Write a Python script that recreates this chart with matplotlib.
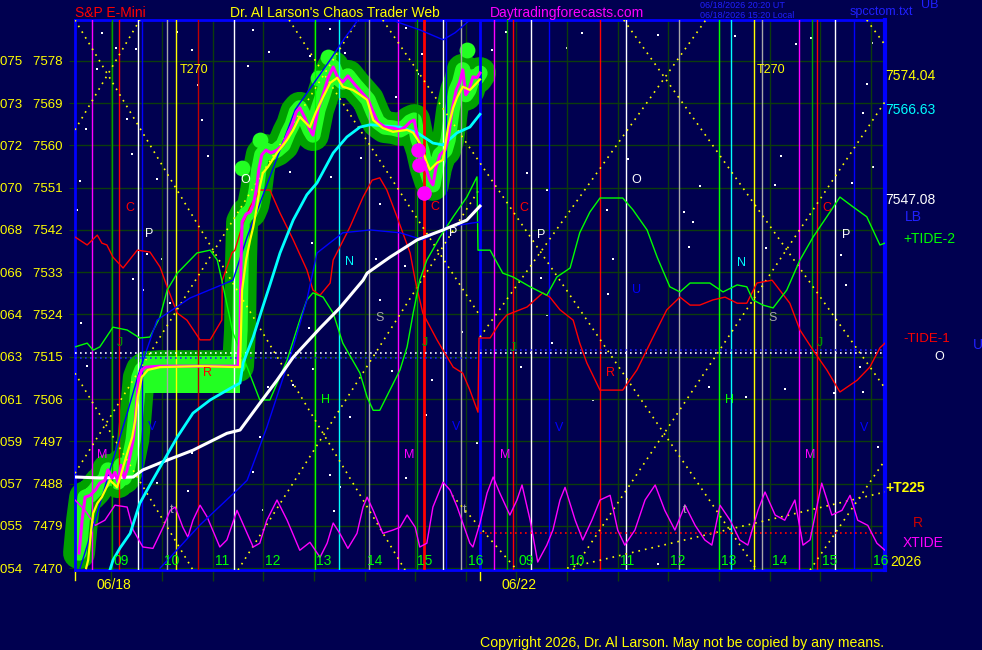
import matplotlib
matplotlib.use("Agg")
import matplotlib.pyplot as plt
import matplotlib.transforms as mtransforms

W, H = 982, 650
BG = '#000050'
GRID = '#0c3c0c'

# ---- data (time = session hours from 08:17 day 1, 8 h per day) ----
price_codes = ["075", "073", "072", "070", "068", "066", "064", "063", "061", "059", "057", "055", "054"]
price_ticks = [7578, 7569, 7560, 7551, 7542, 7533, 7524, 7515, 7506, 7497, 7488, 7479, 7470]
hour_labels = ["09", "10", "11", "12", "13", "14", "15", "16"]
day_labels = ["06/18", "06/22"]

price_t = [0.08, 0.14, 0.20, 0.30, 0.40, 0.49, 0.59, 0.65, 0.73, 0.79, 0.85, 0.91, 0.97, 1.03, 1.09, 1.15,
           1.19, 1.23, 1.26, 1.32, 1.40, 1.68, 2.47, 3.22, 3.26, 3.28, 3.30, 3.38, 3.46, 3.52, 3.58, 3.63,
           3.69, 3.77, 3.87, 3.99, 4.11, 4.21, 4.29, 4.37, 4.44, 4.54, 4.64, 4.70, 4.80, 4.90, 5.00, 5.10,
           5.19, 5.29, 5.39, 5.53, 5.67, 5.79, 5.89, 5.98, 6.12, 6.28, 6.42, 6.52, 6.62, 6.70, 6.77, 6.85,
           6.93, 7.01, 7.07, 7.13, 7.21, 7.31, 7.37, 7.45, 7.53, 7.60, 7.66, 7.72, 7.78, 7.86, 7.94, 8.00]
price = [7473.2, 7480.2, 7485.1, 7485.5, 7486.6, 7488.1, 7488.7, 7490.9, 7489.2, 7490.4, 7488.3, 7491.9,
         7489.2, 7490.9, 7494.1, 7497.3, 7501.5, 7506.8, 7510.5, 7512.2, 7512.8, 7513.0, 7513.0, 7513.0,
         7520.7, 7535.6, 7543.7, 7545.4, 7545.8, 7547.3, 7550.5, 7554.8, 7558.0, 7559.0, 7558.4, 7559.0,
         7560.1, 7562.7, 7564.4, 7567.1, 7568.0, 7565.9, 7563.3, 7562.2, 7567.6, 7570.8, 7574.4, 7576.7,
         7574.4, 7573.5, 7574.8, 7572.9, 7571.2, 7569.7, 7567.1, 7565.0, 7563.9, 7563.7, 7563.3, 7563.9,
         7565.0, 7565.4, 7561.6, 7559.0, 7555.2, 7552.6, 7551.6, 7555.2, 7558.0, 7559.0, 7561.2, 7567.6,
         7571.8, 7573.5, 7576.1, 7570.8, 7571.8, 7574.6, 7574.4, 7575.4]

# congestion zone of the first hours (t0, t1, low, high)
flat_zone = (1.28, 3.26, 7507.2, 7515.1)

smooth_t = [0.22, 0.26, 0.32, 0.36, 0.44, 0.53, 0.69, 0.77, 0.83, 0.89, 0.95, 1.05, 1.13, 1.19, 1.24, 1.32,
            1.44, 1.68, 2.47, 3.26, 3.30, 3.38, 3.46, 3.52, 3.60, 3.65, 3.71, 3.81, 3.99, 4.19, 4.31, 4.44,
            4.54, 4.64, 4.76, 4.90, 5.04, 5.18, 5.29, 5.49, 5.63, 5.77, 5.89, 6.08, 6.28, 6.56, 6.68, 6.77,
            6.85, 6.93, 7.01, 7.15, 7.27, 7.37, 7.47, 7.55, 7.66, 7.80, 7.90, 8.00]
smooth = [7470.0, 7471.7, 7478.1, 7481.7, 7483.8, 7485.1, 7488.7, 7487.9, 7487.2, 7489.2, 7491.5, 7495.1,
          7497.9, 7501.5, 7506.4, 7510.7, 7512.2, 7512.8, 7513.0, 7512.8, 7529.2, 7535.6, 7539.9, 7542.6,
          7547.3, 7551.2, 7554.1, 7555.4, 7558.4, 7561.2, 7563.3, 7566.1, 7565.0, 7563.9, 7567.1, 7570.3,
          7573.3, 7574.4, 7572.5, 7571.8, 7570.8, 7569.7, 7565.4, 7563.7, 7562.9, 7563.3, 7562.7, 7561.2,
          7559.7, 7556.9, 7554.8, 7556.3, 7556.9, 7563.9, 7568.0, 7570.3, 7572.5, 7571.8, 7572.9, 7574.04]

cyan_t = [0.69, 0.75, 0.89, 1.09, 1.28, 1.48, 1.68, 2.02, 2.33, 2.67, 3.12, 3.26, 3.32, 3.52, 3.69, 3.85,
          4.05, 4.31, 4.58, 4.78, 5.10, 5.37, 5.63, 5.83, 6.42, 6.76, 7.07, 7.27, 7.55, 7.80, 8.00]
cyan = [7469.6, 7471.7, 7474.3, 7477.4, 7483.8, 7487.7, 7491.5, 7497.9, 7503.0, 7505.8, 7508.6, 7509.4,
        7513.7, 7519.2, 7525.0, 7530.3, 7537.1, 7544.1, 7549.5, 7552.0, 7558.4, 7561.8, 7563.9, 7564.4,
        7563.9, 7562.7, 7560.5, 7560.1, 7562.7, 7563.9, 7566.63]

white_t = [0.0, 0.49, 1.15, 1.34, 1.68, 2.33, 3.00, 3.26, 3.65, 3.99, 4.31, 4.84, 5.23, 5.69, 5.77, 6.22,
           6.76, 7.27, 7.74, 8.00]
white = [7489.4, 7489.2, 7489.4, 7490.9, 7492.4, 7495.1, 7498.7, 7499.4, 7505.1, 7510.0, 7514.9, 7521.1,
         7525.4, 7531.3, 7532.8, 7536.2, 7539.9, 7542.0, 7544.1, 7547.08]

lb_t = [1.68, 1.88, 2.47, 3.20, 3.40, 3.79, 4.31, 4.58, 4.78, 5.29, 5.83, 6.42, 6.87, 7.35, 7.86, 8.00]
lb = [7470.0, 7472.3, 7479.2, 7486.6, 7488.7, 7500.0, 7517.1, 7527.1, 7537.1, 7541.4, 7542.0, 7541.4,
      7539.9, 7542.6, 7543.5, 7543.7]
ub_t = [0.10, 0.40, 0.69, 0.99, 1.28, 1.62, 2.27, 3.12, 3.40, 3.85, 4.35, 5.04, 5.33, 5.59, 5.97, 6.36,
        6.81, 7.27, 7.51, 7.80, 8.00]
ub = [7470.0, 7480.2, 7490.9, 7501.5, 7512.2, 7522.8, 7527.5, 7531.3, 7540.5, 7553.3, 7567.6, 7578.2,
      7582.9, 7586.7, 7588.4, 7586.3, 7584.6, 7582.5, 7584.0, 7586.7, 7588.4]

tide1_t = [0.0, 0.24, 0.44, 0.53, 0.63, 0.75, 0.95, 1.23, 1.48, 1.68, 1.82, 2.02, 2.21, 2.47, 2.67, 2.90,
           2.91, 3.10, 3.16, 3.32, 3.46, 3.65, 3.85, 4.05, 4.31, 4.58, 4.70, 4.84, 5.04, 5.10, 5.43, 5.69,
           5.87, 6.02, 6.16, 6.36, 6.62, 6.72, 6.87, 7.15, 7.27, 7.47, 7.66, 7.80, 7.96, 7.98, 8.20, 8.39,
           8.53, 8.93, 9.24, 9.38, 9.58, 9.84, 9.97, 10.11, 10.37, 10.82, 11.10, 11.42, 11.69, 11.95, 12.15,
           12.34, 12.60, 12.84, 13.08, 13.27, 13.47, 13.77, 14.12, 14.32, 14.58, 14.85, 15.11, 15.45, 15.70,
           15.90, 16.0]
tide1 = [7540.5, 7538.8, 7540.9, 7539.2, 7538.8, 7536.2, 7533.9, 7537.7, 7537.3, 7534.1, 7529.9, 7524.3,
         7522.8, 7518.6, 7518.6, 7522.8, 7531.3, 7537.1, 7537.7, 7543.5, 7546.9, 7550.5, 7550.5, 7545.6,
         7539.9, 7533.5, 7529.2, 7528.1, 7530.7, 7535.6, 7542.6, 7549.0, 7552.6, 7553.1, 7550.5, 7544.8,
         7537.1, 7531.3, 7524.3, 7518.6, 7516.4, 7512.8, 7511.5, 7507.9, 7503.2, 7519.0, 7519.0, 7522.2,
         7523.9, 7525.6, 7528.6, 7527.7, 7525.0, 7522.8, 7517.9, 7513.7, 7507.9, 7507.9, 7512.2, 7519.2,
         7525.0, 7527.7, 7526.0, 7526.0, 7527.1, 7527.7, 7526.4, 7526.4, 7530.7, 7531.3, 7526.4, 7520.7,
         7516.4, 7512.2, 7507.5, 7510.0, 7512.8, 7516.9, 7517.9]

tide2_t = [0.0, 0.24, 0.36, 0.49, 0.75, 1.03, 1.28, 1.48, 1.68, 1.82, 2.02, 2.41, 2.67, 2.81, 2.90, 3.12,
           3.40, 3.65, 3.85, 4.19, 4.44, 4.58, 4.70, 4.90, 5.10, 5.29, 5.63, 5.77, 5.89, 6.02, 6.22, 6.42,
           6.56, 6.68, 6.81, 6.95, 7.21, 7.47, 7.74, 7.94, 7.96, 8.20, 8.45, 8.65, 8.99, 9.32, 9.52, 9.78,
           9.97, 10.17, 10.37, 10.82, 11.02, 11.30, 11.50, 11.75, 11.95, 12.15, 12.54, 12.80, 13.08, 13.27,
           13.39, 13.59, 13.79, 14.06, 14.32, 14.58, 14.85, 15.11, 15.37, 15.64, 15.90, 16.0]
tide2 = [7517.1, 7517.9, 7516.4, 7517.1, 7521.3, 7520.7, 7519.0, 7519.2, 7523.5, 7529.2, 7532.8, 7537.1,
         7537.7, 7535.6, 7531.3, 7520.1, 7512.8, 7505.8, 7505.8, 7514.3, 7522.8, 7527.1, 7528.6, 7527.7,
         7524.3, 7517.9, 7511.5, 7506.4, 7503.6, 7503.6, 7507.9, 7512.2, 7517.1, 7524.3, 7531.3, 7535.6,
         7540.5, 7544.8, 7549.0, 7553.3, 7537.7, 7537.7, 7532.8, 7532.0, 7529.9, 7528.1, 7532.0, 7533.9,
         7541.4, 7545.8, 7548.8, 7548.8, 7546.3, 7542.0, 7536.2, 7529.9, 7528.8, 7530.7, 7530.7, 7528.8,
         7530.3, 7529.9, 7527.1, 7526.0, 7525.4, 7529.2, 7535.6, 7540.5, 7544.8, 7549.0, 7546.9, 7544.8,
         7538.8, 7539.2]

xtide_t = [0.0, 0.20, 0.40, 0.59, 0.79, 1.03, 1.15, 1.34, 1.54, 1.74, 1.88, 1.98, 2.13, 2.23, 2.33, 2.47,
           2.61, 2.86, 3.00, 3.20, 3.40, 3.52, 3.65, 3.79, 3.99, 4.19, 4.44, 4.64, 4.84, 4.98, 5.10, 5.23,
           5.39, 5.57, 5.69, 5.77, 5.89, 6.08, 6.28, 6.42, 6.56, 6.72, 6.81, 6.95, 7.07, 7.27, 7.41, 7.55,
           7.66, 7.80, 7.86, 8.00, 8.14, 8.26, 8.39, 8.59, 8.73, 8.83, 8.99, 9.14, 9.32, 9.44, 9.58, 9.68,
           9.88, 10.03, 10.21, 10.37, 10.57, 10.72, 10.86, 11.06, 11.26, 11.46, 11.65, 11.85, 12.05, 12.25,
           12.44, 12.58, 12.74, 12.94, 13.13, 13.29, 13.49, 13.63, 13.83, 14.02, 14.22, 14.38, 14.52, 14.75,
           14.95, 15.15, 15.31, 15.46, 15.66, 15.84, 16.0]
xtide = [7484.5, 7482.3, 7479.1, 7480.2, 7483.4, 7483.0, 7478.1, 7474.5, 7474.2, 7478.7, 7482.3, 7483.0,
         7478.7, 7476.6, 7480.2, 7483.4, 7480.9, 7474.5, 7476.0, 7482.3, 7477.4, 7474.5, 7475.3, 7480.2,
         7484.5, 7480.2, 7473.8, 7475.5, 7472.3, 7475.3, 7479.6, 7477.4, 7474.2, 7477.4, 7483.0, 7485.1,
         7482.3, 7477.4, 7478.1, 7478.7, 7481.3, 7478.7, 7474.5, 7475.3, 7483.0, 7488.3, 7486.6, 7483.0,
         7479.6, 7475.3, 7474.5, 7479.6, 7486.0, 7489.4, 7486.0, 7481.3, 7484.5, 7487.7, 7480.2, 7471.3,
         7474.9, 7478.1, 7484.5, 7487.2, 7480.2, 7476.0, 7480.2, 7484.5, 7485.5, 7478.1, 7474.9, 7478.1,
         7484.5, 7487.7, 7482.3, 7478.1, 7483.4, 7479.1, 7476.0, 7474.9, 7483.4, 7480.2, 7476.0, 7474.9,
         7482.3, 7486.2, 7481.3, 7480.2, 7484.5, 7474.9, 7476.0, 7488.1, 7481.3, 7482.3, 7485.5, 7480.2,
         7479.1, 7475.3, 7473.8]

# vertical event lines (time, kind)
event_t = [0.34, 0.73, 0.87, 1.24, 1.32, 1.82, 2.00, 2.43, 3.14, 4.74, 5.21, 5.81, 6.38, 6.76, 6.89, 7.27,
           7.33, 7.62, 8.0, 8.28, 8.53, 8.65, 9.01, 9.36, 10.37, 10.88, 11.93, 12.72, 12.96, 13.41, 13.57,
           14.30, 14.56, 14.66, 15.01, 15.39]
event_kind = ["ma", "gr", "re", "wh", "bl", "gy", "ye", "dr", "wh", "li", "cy", "gy", "ma", "gr", "RE", "wh",
              "bl", "gy", "BL", "ma", "gr", "re", "wh", "bl", "re", "wh", "gy", "li", "cy", "ye", "gy",
              "ma", "gr", "re", "wh", "bl"]

# dotted time/price diagonals (t0, p0, t1, p1)
diag = [(0.0, 7586.7, 6.52, 7469.6), (0.0, 7511.5, 2.33, 7469.6), (0.0, 7563.3, 1.28, 7586.7),
        (0.0, 7490.2, 5.59, 7586.7), (3.22, 7469.6, 8.0, 7550.9), (4.23, 7586.7, 8.0, 7523.7),
        (6.08, 7586.7, 13.47, 7469.6), (8.0, 7519.2, 12.46, 7586.7), (10.84, 7586.7, 16.0, 7508.3),
        (9.84, 7469.6, 16.0, 7569.3), (14.52, 7469.6, 16.0, 7493.0), (15.64, 7586.7, 16.0, 7581.4),
        (7.45, 7485.5, 8.73, 7469.6)]
t225 = (9.72, 7470.0, 16.0, 7486.2)

# faint background dots
dot_t = [0.53, 0.81, 2.02, 2.31, 3.52, 5.04, 5.33, 6.54, 6.85, 8.24, 8.51, 9.72, 10.01, 11.51, 13.04, 14.24,
         14.54, 15.74, 0.44, 1.03, 1.13, 0.10, 0.22, 1.21, 2.43, 2.51, 2.63, 3.42, 3.83, 4.25, 4.64, 1.62,
         1.72, 1.42, 1.15, 0.04, 0.12, 0.24, 1.34, 1.88, 2.31, 2.23, 3.52, 3.65, 3.81, 4.31, 3.71, 1.62,
         0.99, 4.70, 4.62, 6.02, 5.43, 5.23, 5.04, 6.26, 6.54, 6.93, 7.05, 7.64, 7.94, 5.12, 8.93, 9.32,
         9.20, 9.32, 9.42, 10.51, 10.63, 10.53, 10.92, 12.03, 12.13, 12.21, 12.34, 12.52, 13.25, 13.65,
         13.83, 13.94, 14.02, 15.13, 15.23, 15.35, 15.76, 15.50, 14.99, 10.23, 8.81, 6.34, 6.77, 7.41,
         5.65, 6.02, 5.95, 6.52, 5.06, 4.68, 11.51, 15.64, 15.56, 15.56, 15.86]
dot_p = [7584.0, 7580.8, 7584.2, 7580.3, 7584.6, 7584.8, 7579.7, 7585.0, 7579.5, 7580.3, 7584.2, 7580.8,
         7584.0, 7583.5, 7583.3, 7581.6, 7582.9, 7581.8, 7576.3, 7565.6, 7558.2, 7552.4, 7563.5, 7580.6,
         7572.9, 7565.4, 7557.8, 7576.9, 7579.9, 7554.4, 7579.1, 7552.9, 7535.8, 7536.9, 7531.6, 7546.3,
         7522.2, 7513.0, 7529.2, 7526.4, 7494.5, 7486.4, 7490.4, 7497.9, 7508.6, 7509.0, 7482.3, 7488.1,
         7500.0, 7512.4, 7521.1, 7527.1, 7502.2, 7487.2, 7489.8, 7512.0, 7489.2, 7502.6, 7510.0, 7520.3,
         7496.6, 7482.1, 7554.1, 7550.5, 7531.8, 7523.9, 7517.9, 7546.3, 7535.8, 7528.4, 7557.1, 7545.8,
         7538.4, 7543.7, 7551.4, 7508.6, 7506.4, 7538.2, 7551.6, 7557.8, 7508.1, 7536.7, 7530.3, 7552.0,
         7555.4, 7512.8, 7507.3, 7505.8, 7512.8, 7570.3, 7575.2, 7553.9, 7557.3, 7547.5, 7535.8, 7534.3,
         7553.3, 7539.2, 7470.9, 7573.1, 7566.9, 7507.5, 7495.8]

markers = [("C", 0.99, 7546.7, 're'), ("P", 1.38, 7541.1, 'wh'), ("O", 3.26, 7552.6, 'wh'),
           ("R", 2.53, 7511.5, 're'), ("M", 0.43, 7494.1, 'ma'), ("J", 0.83, 7517.9, 'gr'),
           ("V", 1.44, 7500.0, 'bl'), ("t", 1.88, 7482.3, 'gy'), ("N", 5.33, 7535.2, 'cy'),
           ("S", 5.93, 7523.3, 'gy'), ("H", 4.86, 7505.8, 'li'), ("J", 6.85, 7517.9, 'gr'),
           ("V", 7.45, 7500.0, 'bl'), ("M", 6.50, 7494.1, 'ma'), ("t", 7.66, 7482.3, 'gy'),
           ("C", 7.01, 7546.9, 're'), ("P", 7.39, 7541.4, 'wh'),
           ("C", 8.77, 7546.7, 're'), ("P", 9.12, 7540.9, 'wh'), ("O", 11.0, 7552.6, 'wh'),
           ("U", 11.0, 7529.2, 'bl'), ("R", 10.49, 7511.5, 're'), ("N", 13.07, 7535.0, 'cy'),
           ("S", 13.69, 7523.3, 'gy'), ("H", 12.84, 7505.8, 'li'), ("J", 8.59, 7516.9, 'gr'),
           ("J", 14.65, 7517.9, 'gr'), ("C", 14.77, 7546.7, 're'), ("P", 15.15, 7540.9, 'wh'),
           ("M", 8.39, 7494.1, 'ma'), ("M", 14.42, 7494.1, 'ma'), ("V", 9.48, 7499.8, 'bl'),
           ("V", 15.5, 7499.8, 'bl'), ("t", 12.0, 7482.3, 'gy'),
           ("T270", 2.07, 7576.1, 'ye'), ("T270", 13.47, 7576.1, 'ye')]

hot_t = [6.77, 6.79, 6.89]
hot_p = [7559.0, 7555.8, 7549.9]
peak_t = [5.00, 4.80, 7.74, 3.30, 3.65]
peak_p = [7578.9, 7574.4, 7580.3, 7555.2, 7561.2]

COL = {'ma': '#ff00ff', 'gr': '#00a000', 're': '#ff0000', 'RE': '#ff0000', 'wh': '#ffffff',
       'bl': '#0000ff', 'BL': '#0000ff', 'gy': '#a8a8a8', 'ye': '#ffff00', 'dr': '#c00000',
       'li': '#00ff00', 'cy': '#00ffff'}

fig = plt.figure(figsize=(W / 100, H / 100), dpi=100, facecolor=BG)
ax = fig.add_axes([75 / W, 1 - 570 / H, 810 / W, 550 / H])
ax.set_facecolor(BG)
ax.set_xlim(0, 16)
ax.set_ylim(7469.6, 7586.7)
font = 'Liberation Sans'

hour_pos = [d * 8 + i + 0.72 for d in range(2) for i in range(8)]
ax.set_xticks(hour_pos)
ax.set_xticklabels([])
ax.set_yticks(price_ticks)
ax.set_yticklabels([f"{c}   {v}" for c, v in zip(price_codes, price_ticks)],
                   color='#ffff00', fontsize=9.5, family=font)
ax.tick_params(axis='y', length=4, color=GRID, pad=5)
ax.tick_params(axis='x', length=8, color=GRID, width=1)
ax.grid(True, color=GRID, lw=1)
for s in ax.spines.values():
    s.set_color('#0000ff')
    s.set_linewidth(2)
ax.spines['right'].set_linewidth(3)

ax.scatter(dot_t, dot_p, s=2, marker='s', color='#ffffff', lw=0, zorder=1.5)

# blob around price
ax.plot(price_t, price, color='#00a000', lw=23, solid_capstyle='round', solid_joinstyle='round',
        clip_on=False, zorder=2)
ax.fill_between([flat_zone[0], flat_zone[1]], flat_zone[2], flat_zone[3], color='#22ff22', lw=0,
                zorder=2.05)
ax.plot(price_t, price, color='#22ff22', lw=11, solid_capstyle='round', solid_joinstyle='round',
        zorder=2.1)
ax.scatter(peak_t, peak_p, s=130, color='#22ff22', zorder=2.2, lw=0)

for t, k in zip(event_t, event_kind):
    ax.axvline(t, color=COL[k], lw=2 if k in ('RE', 'BL') else 1, zorder=3)

for t0, p0, t1, p1 in diag:
    ax.plot([t0, t1], [p0, p1], color='#ffff00', lw=1.2, ls=(0, (1, 3)), zorder=3.2)
ax.plot([t225[0], t225[2]], [t225[1], t225[3]], color='#ffff00', lw=1.2, ls=(0, (1, 3)), zorder=3.2)

ax.plot([0, 16], [7515.8, 7515.8], color='#ffffff', lw=1.2, ls=(0, (1, 2)), zorder=3.3)
ax.plot([0, 8], [7514.8, 7514.8], color='#2020ff', lw=1.2, ls=(0, (1, 2)), zorder=3.3)
ax.plot([8, 16], [7516.5, 7516.5], color='#2020ff', lw=1.2, ls=(0, (1, 2)), zorder=3.3)
ax.plot([8, 16], [7477.4, 7477.4], color='#ff0000', lw=1.2, ls=(0, (1, 2)), zorder=3.3)

ax.plot(tide1_t, tide1, color='#ff0000', lw=1, zorder=4)
ax.plot(tide2_t, tide2, color='#00ff00', lw=1, zorder=4)
ax.plot(xtide_t, xtide, color='#ff00ff', lw=1, zorder=4)
ax.plot(lb_t, lb, color='#0000ff', lw=1, zorder=4)
ax.plot(ub_t, ub, color='#0000ff', lw=1, zorder=4)
ax.plot(white_t, white, color='#ffffff', lw=2.2, zorder=5)
ax.plot(cyan_t, cyan, color='#00ffff', lw=2, zorder=5)
ax.plot(price_t, price, color='#ff00ff', lw=2.2, zorder=6)
ax.plot(smooth_t, smooth, color='#ffff00', lw=1.6, zorder=6.1)
ax.scatter(hot_t, hot_p, s=110, color='#ff00ff', zorder=6.2, lw=0)

for txt, t, p, k in markers:
    ax.text(t, p, txt, color=COL[k], fontsize=9, family=font, ha='left', va='center', zorder=7)

for i, t in enumerate(hour_pos):
    ax.text(t + 0.04, 7471.5, hour_labels[i % 8], color='#00ff00', fontsize=10, family=font,
            ha='left', va='center', zorder=7)

trans = mtransforms.blended_transform_factory(ax.transData, ax.transAxes)
for d, lab in enumerate(day_labels):
    ax.text(d * 8 + 0.43, -0.015, lab, transform=trans, color='#ffff00', fontsize=10, family=font,
            ha='left', va='top', clip_on=False)
    ax.plot([d * 8, d * 8], [-0.004, -0.018], transform=trans, color='#ffff00', lw=1, clip_on=False)


def ftext(x, y, s, color, size=10, **kw):
    fig.text(x / W, 1 - y / H, s, color=color, fontsize=size, family=font, va='center', **kw)


ftext(75, 13, "S&P E-Mini", '#ff0000')
ftext(230, 13, "Dr. Al Larson's Chaos Trader Web", '#ffff00')
ftext(490, 13, "Daytradingforecasts.com", '#ff00ff')
ftext(700, 5, "06/18/2026 20:20 UT", '#2020ff', size=6.5)
ftext(700, 15, "06/18/2026 15:20 Local", '#2020ff', size=6.5)
ftext(850, 12, "spcctom.txt", '#2020ff', size=9)
ftext(921, 5, "UB", '#2020ff', size=9)
ftext(480, 643, "Copyright 2026, Dr. Al Larson. May not be copied by any means.", '#ffff00', size=10.2)

ftext(885, 76, "7574.04", '#ffff00')
ftext(885, 110, "7566.63", '#00ffff')
ftext(885, 200, "7547.08", '#ffffff')
ftext(905, 217, "LB", '#2020ff')
ftext(903, 239, "+TIDE-2", '#00ff00')
ftext(903, 339, "-TIDE-1", '#ff0000', size=9.5)
ftext(934, 357, "O", '#ffffff', size=9)
ftext(973, 345, "U", '#2020ff')
ftext(885, 488, "+T225", '#ffff00', weight='bold')
ftext(913, 523, "R", '#cc0000')
ftext(903, 543, "XTIDE", '#ff00ff')
ftext(890, 562, "2026", '#ffff00')

fig.savefig("out.png", dpi=100, facecolor=BG)
